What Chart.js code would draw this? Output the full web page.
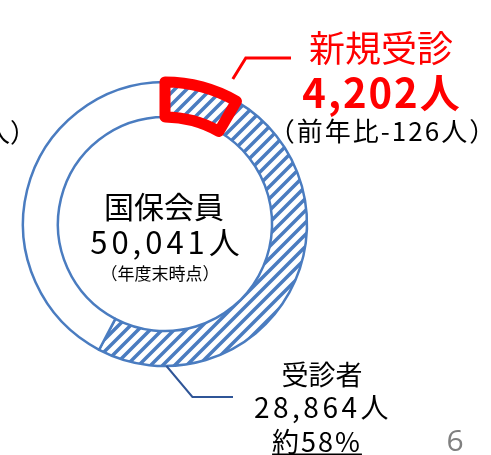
<!DOCTYPE html>
<html>
<head>
<meta charset="utf-8">
<script src="https://cdn.jsdelivr.net/npm/chart.js@4/dist/chart.umd.min.js"></script>
<style>
  html, body { margin: 0; padding: 0; background: #fff; }
  #wrap { position: relative; width: 491px; height: 455px; overflow: hidden; font-family: "Noto Sans CJK JP", "Noto Sans", sans-serif; }
  #chart { position: absolute; left: 0; top: 0; }
  .t { position: absolute; white-space: nowrap; line-height: 1; transform: translate(-50%, -50%); color: #000; }
</style>
</head>
<body>
<div id="wrap">
  <canvas id="chart" width="491" height="455"></canvas>
  <div class="t" style="left:10px;top:131px;font-size:26px">人）</div>
  <div class="t" style="left:164px;top:205px;font-size:30px">国保会員</div>
  <div class="t" style="left:167px;top:240px;font-size:31px;letter-spacing:4px">50,041人</div>
  <div class="t" style="left:160px;top:272px;font-size:17px">（年度末時点）</div>
  <div class="t" style="left:381px;top:46px;font-size:36px;color:#ff0000">新規受診</div>
  <div class="t" style="left:382px;top:91px;font-size:40px;font-weight:bold;color:#ff0000;letter-spacing:2px">4,202人</div>
  <div class="t" style="left:383px;top:130px;font-size:26px;letter-spacing:2px">（前年比-126人）</div>
  <div class="t" style="left:322px;top:373px;font-size:27px">受診者</div>
  <div class="t" style="left:323px;top:406px;font-size:28px;letter-spacing:3.5px">28,864人</div>
  <div class="t" style="left:317px;top:440px;font-size:27px;letter-spacing:2px;text-decoration:underline">約58%</div>
  <div class="t" style="left:455px;top:440px;font-size:30px;color:#808080;font-family:'Open Sans',sans-serif">6</div>
</div>
<script>
// values
const members = 50041;      // 国保会員
const visitors = 28864;     // 受診者
const newVisitors = 4202;   // 新規受診

const segLabels = ['受診者(継続)', '未受診', '新規受診'];
const segValues = [visitors - newVisitors, members - visitors, newVisitors];

const blue = '#4a7cc0';
const red = '#ff0000';

function stripes(color) {
    const s = 12;
    const c = document.createElement('canvas');
    c.width = s; c.height = s;
    const g = c.getContext('2d');
    g.strokeStyle = color;
    g.lineWidth = 3.5;
    g.beginPath();
    g.moveTo(-1, s + 1); g.lineTo(s + 1, -1);
    g.moveTo(-2, 2); g.lineTo(2, -2);
    g.moveTo(s - 2, s + 2); g.lineTo(s + 2, s - 2);
    g.stroke();
    return g.createPattern(c, 'repeat');
}

const ctx = document.getElementById('chart').getContext('2d');
const hatch = stripes(blue);

// new visitors slice is drawn last so its red frame sits on top
const startDeg = newVisitors / members * 360;

const leaders = {
    id: 'leaders',
    afterDraw(chart) {
        const meta = chart.getDatasetMeta(0).data;
        const g = chart.ctx;
        g.save();
        // red leader to 新規受診
        const r = meta[2];
        const a1 = r.endAngle - 0.09;
        const x1 = r.x + Math.cos(a1) * (r.outerRadius + 18);
        const y1 = r.y + Math.sin(a1) * (r.outerRadius + 18);
        g.strokeStyle = red;
        g.lineWidth = 3;
        g.beginPath();
        g.moveTo(x1, y1);
        g.lineTo(x1 + 13, y1 - 21);
        g.lineTo(291, y1 - 21);
        g.stroke();
        // blue leader to 受診者
        const a2 = Math.PI / 2 - 0.01;
        const x2 = r.x + Math.cos(a2) * r.outerRadius;
        const y2 = r.y + Math.sin(a2) * r.outerRadius;
        g.strokeStyle = '#2f5597';
        g.lineWidth = 2;
        g.beginPath();
        g.moveTo(x2, y2);
        g.lineTo(x2 + 26, y2 + 31);
        g.lineTo(233, y2 + 31);
        g.stroke();
        g.restore();
    }
};

new Chart(ctx, {
    type: 'doughnut',
    data: {
        labels: segLabels,
        datasets: [{
            data: segValues,
            backgroundColor: [hatch, '#ffffff', hatch],
            borderColor: [blue, blue, red],
            borderWidth: [2.5, 2.5, 11],
            borderJoinStyle: 'round'
        }]
    },
    options: {
        responsive: false,
        animation: false,
        events: [],
        rotation: startDeg,
        radius: 142,
        cutout: '75.4%',
        layout: { padding: { left: 0, right: 161, top: 0, bottom: 7 } },
        plugins: {
            legend: { display: false },
            tooltip: { enabled: false }
        }
    },
    plugins: [leaders]
});
</script>
</body>
</html>
